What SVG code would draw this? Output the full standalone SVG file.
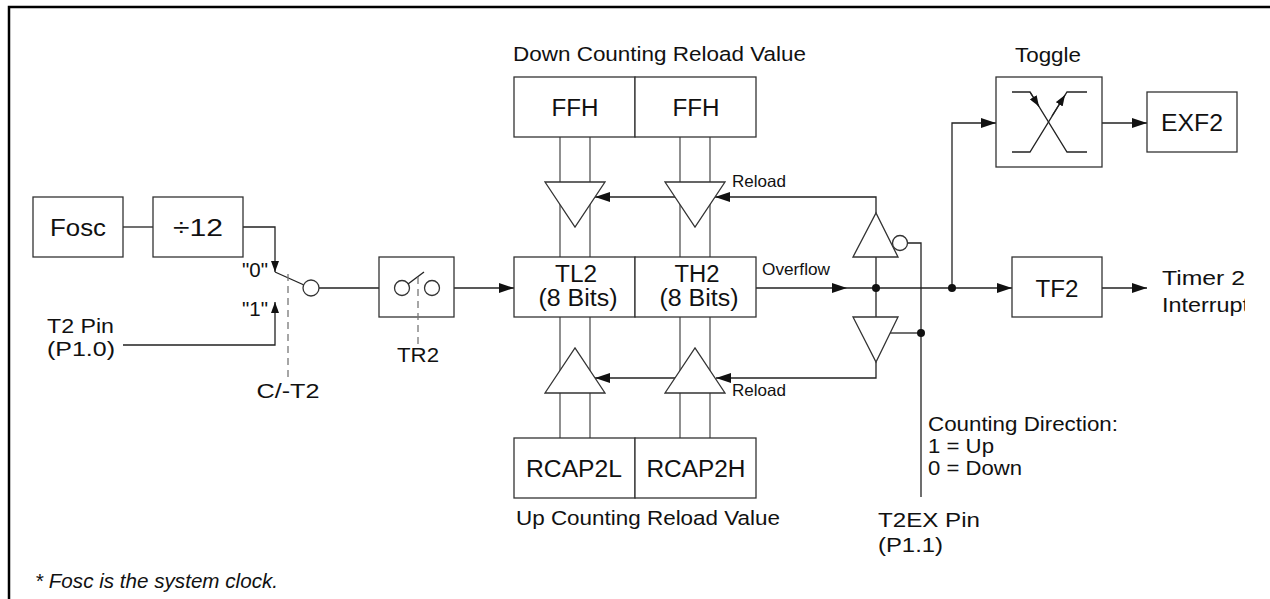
<svg xmlns="http://www.w3.org/2000/svg" width="1270" height="599" viewBox="0 0 1270 599">
<style>
.t{font-family:"Liberation Sans",Arial,sans-serif;fill:#111;font-size:20.5px}
.b{font-size:23.5px}
.s{font-size:16.5px}
.box{fill:#fff;stroke:#333;stroke-width:1.3}
.ln{fill:none;stroke:#222;stroke-width:1.3}
.bus{fill:none;stroke:#555;stroke-width:1.3}
.tri{fill:#fff;stroke:#333;stroke-width:1.3}
.dash{fill:none;stroke:#777;stroke-width:1.3;stroke-dasharray:7 5}
.dot{fill:#111}
</style>
<defs>
<marker id="ah" markerUnits="userSpaceOnUse" markerWidth="15" markerHeight="10" refX="15" refY="5" orient="auto"><path d="M0,0 L15,5 L0,10 z" fill="#111"/></marker>
<marker id="as" markerUnits="userSpaceOnUse" markerWidth="11" markerHeight="8" refX="11" refY="4" orient="auto"><path d="M0,0 L11,4 L0,8 z" fill="#111"/></marker>
<clipPath id="clipR"><rect x="0" y="0" width="1245" height="599"/></clipPath>
</defs>
<g id="frame"><path d="M9,599 V7 H1270" fill="none" stroke="#000" stroke-width="2.5"/></g>

<g id="connectors">
<path class="ln" d="M123,227 H153"/>
<path class="ln" d="M243,227 H275 V272" marker-end="url(#as)"/>
<path class="ln" d="M123,345 H275 V302" marker-end="url(#as)"/>
<path class="ln" d="M275,272 L304,285"/>
<path class="ln" d="M319,288 H394.5"/>
<path class="dash" d="M288,274 V380"/>
<path class="ln" d="M439.5,288 H514" marker-end="url(#ah)"/>
<path class="bus" d="M560,137 V257 M590,137 V257 M680,137 V257 M710,137 V257"/>
<path class="bus" d="M560,317 V438 M590,317 V438 M680,317 V438 M710,317 V438"/>
<path class="ln" d="M756,288 H847" marker-end="url(#ah)"/>
<path class="ln" d="M847,288 H1012" marker-end="url(#ah)"/>
<path class="ln" d="M876,257 V317"/>
<path class="ln" d="M952,288 V123 H996" marker-end="url(#ah)"/>
<path class="ln" d="M1102,123 H1147" marker-end="url(#ah)"/>
<path class="ln" d="M1102,288 H1147" marker-end="url(#ah)"/>
<path class="ln" d="M876,213 V197 H715" marker-end="url(#ah)"/>
<path class="ln" d="M675,197 H595" marker-end="url(#ah)"/>
<path class="ln" d="M876,362 V378 H716" marker-end="url(#ah)"/>
<path class="ln" d="M677,378 H595" marker-end="url(#ah)"/>
<path class="ln" d="M907.5,243 H921 V497"/>
<path class="ln" d="M890,333 H921"/>
<circle class="dot" cx="876" cy="288" r="4"/>
<circle class="dot" cx="952" cy="288" r="4"/>
<circle class="dot" cx="921" cy="333" r="4"/>
</g>

<g id="fosc"><rect class="box" x="33" y="197" width="90" height="60"/><text class="t b" x="78" y="236" text-anchor="middle" textLength="56" lengthAdjust="spacingAndGlyphs">Fosc</text></g>
<g id="div12"><rect class="box" x="153" y="197" width="90" height="60"/><text class="t b" x="198" y="236" text-anchor="middle" textLength="50" lengthAdjust="spacingAndGlyphs">÷12</text></g>

<g id="mux">
<circle class="tri" cx="311" cy="288" r="8"/>
<text class="t" x="268" y="277" font-size="17.5" text-anchor="end">"0"</text>
<text class="t" x="268" y="316" font-size="17.5" text-anchor="end">"1"</text>
<text class="t" x="288" y="398" text-anchor="middle" textLength="63" lengthAdjust="spacingAndGlyphs">C/-T2</text>
</g>

<g id="t2pin">
<text class="t" x="47" y="333" textLength="67" lengthAdjust="spacingAndGlyphs">T2 Pin</text>
<text class="t" x="47" y="356" textLength="68" lengthAdjust="spacingAndGlyphs">(P1.0)</text>
</g>

<g id="tr2">
<rect class="box" x="379" y="257" width="75" height="60"/>
<circle class="tri" cx="402" cy="288" r="7.5"/>
<circle class="tri" cx="432" cy="288" r="7.5"/>
<path class="ln" d="M408,284 L424,272"/>
<path class="dash" d="M418,277 V346"/>
<text class="t" x="418" y="362" text-anchor="middle" textLength="42" lengthAdjust="spacingAndGlyphs">TR2</text>
</g>

<g id="ffh">
<text class="t" x="513" y="61" textLength="293" lengthAdjust="spacingAndGlyphs">Down Counting Reload Value</text>
<rect class="box" x="514" y="77" width="121" height="60"/>
<rect class="box" x="635" y="77" width="121" height="60"/>
<text class="t b" x="575" y="116" text-anchor="middle" textLength="47" lengthAdjust="spacingAndGlyphs">FFH</text>
<text class="t b" x="696" y="116" text-anchor="middle" textLength="47" lengthAdjust="spacingAndGlyphs">FFH</text>
</g>

<g id="tl2th2">
<rect class="box" x="514" y="257" width="121" height="60"/>
<rect class="box" x="635" y="257" width="121" height="60"/>
<text class="t b" x="576" y="282" text-anchor="middle" textLength="42" lengthAdjust="spacingAndGlyphs">TL2</text>
<text class="t b" x="578" y="306" text-anchor="middle" textLength="79" lengthAdjust="spacingAndGlyphs">(8 Bits)</text>
<text class="t b" x="697" y="282" text-anchor="middle" textLength="45" lengthAdjust="spacingAndGlyphs">TH2</text>
<text class="t b" x="699" y="306" text-anchor="middle" textLength="79" lengthAdjust="spacingAndGlyphs">(8 Bits)</text>
<text class="t s" x="762" y="275" textLength="68" lengthAdjust="spacingAndGlyphs">Overflow</text>
</g>

<g id="rcap">
<rect class="box" x="514" y="438" width="121" height="60"/>
<rect class="box" x="635" y="438" width="121" height="60"/>
<text class="t b" x="574" y="477" text-anchor="middle" textLength="96" lengthAdjust="spacingAndGlyphs">RCAP2L</text>
<text class="t b" x="696" y="477" text-anchor="middle" textLength="99" lengthAdjust="spacingAndGlyphs">RCAP2H</text>
<text class="t" x="516" y="525" textLength="264" lengthAdjust="spacingAndGlyphs">Up Counting Reload Value</text>
</g>

<g id="reloadgates">
<path class="tri" d="M545,182 H605 L575,227 Z"/>
<path class="tri" d="M665,182 H725 L695,227 Z"/>
<path class="tri" d="M545,393 H605 L575,348 Z"/>
<path class="tri" d="M665,393 H725 L695,348 Z"/>
<text class="t s" x="732" y="187" textLength="54" lengthAdjust="spacingAndGlyphs">Reload</text>
<text class="t s" x="732" y="396" textLength="54" lengthAdjust="spacingAndGlyphs">Reload</text>
</g>

<g id="dirgates">
<path class="tri" d="M853,257 H898 L876,213 Z"/>
<circle class="tri" cx="900" cy="243" r="7.5"/>
<path class="tri" d="M853,317 H898 L876,362 Z"/>
</g>

<g id="toggle">
<text class="t" x="1048" y="62" text-anchor="middle" textLength="66" lengthAdjust="spacingAndGlyphs">Toggle</text>
<rect class="box" x="996" y="77" width="106" height="90"/>
<path class="ln" d="M1012,92 H1030 L1067,152 H1087"/>
<path class="ln" d="M1012,152 H1030 L1067,92 H1087"/>
<path class="ln" d="M1030,92 L1039,106.6" marker-end="url(#as)"/>
<path class="ln" d="M1052,116 L1065,95" marker-end="url(#as)"/>
</g>

<g id="exf2"><rect class="box" x="1147" y="92" width="90" height="60"/><text class="t b" x="1192" y="131" text-anchor="middle" textLength="62" lengthAdjust="spacingAndGlyphs">EXF2</text></g>

<g id="tf2"><rect class="box" x="1012" y="257" width="90" height="60"/><text class="t b" x="1057" y="297" text-anchor="middle" textLength="43" lengthAdjust="spacingAndGlyphs">TF2</text></g>

<g id="interrupt" clip-path="url(#clipR)">
<text class="t" x="1162" y="285" textLength="83" lengthAdjust="spacingAndGlyphs">Timer 2</text>
<text class="t" x="1162" y="312" textLength="87" lengthAdjust="spacingAndGlyphs">Interrupt</text>
</g>

<g id="direction">
<text class="t" x="928" y="431" textLength="190" lengthAdjust="spacingAndGlyphs">Counting Direction:</text>
<text class="t" x="928" y="453" textLength="66" lengthAdjust="spacingAndGlyphs">1 = Up</text>
<text class="t" x="928" y="475" textLength="94" lengthAdjust="spacingAndGlyphs">0 = Down</text>
</g>

<g id="t2ex">
<text class="t" x="878" y="527" textLength="102" lengthAdjust="spacingAndGlyphs">T2EX Pin</text>
<text class="t" x="878" y="552" textLength="65" lengthAdjust="spacingAndGlyphs">(P1.1)</text>
</g>

<g id="note"><text class="t" x="35" y="588" font-style="italic" font-size="19" textLength="243" lengthAdjust="spacingAndGlyphs">* Fosc is the system clock.</text></g>
</svg>
